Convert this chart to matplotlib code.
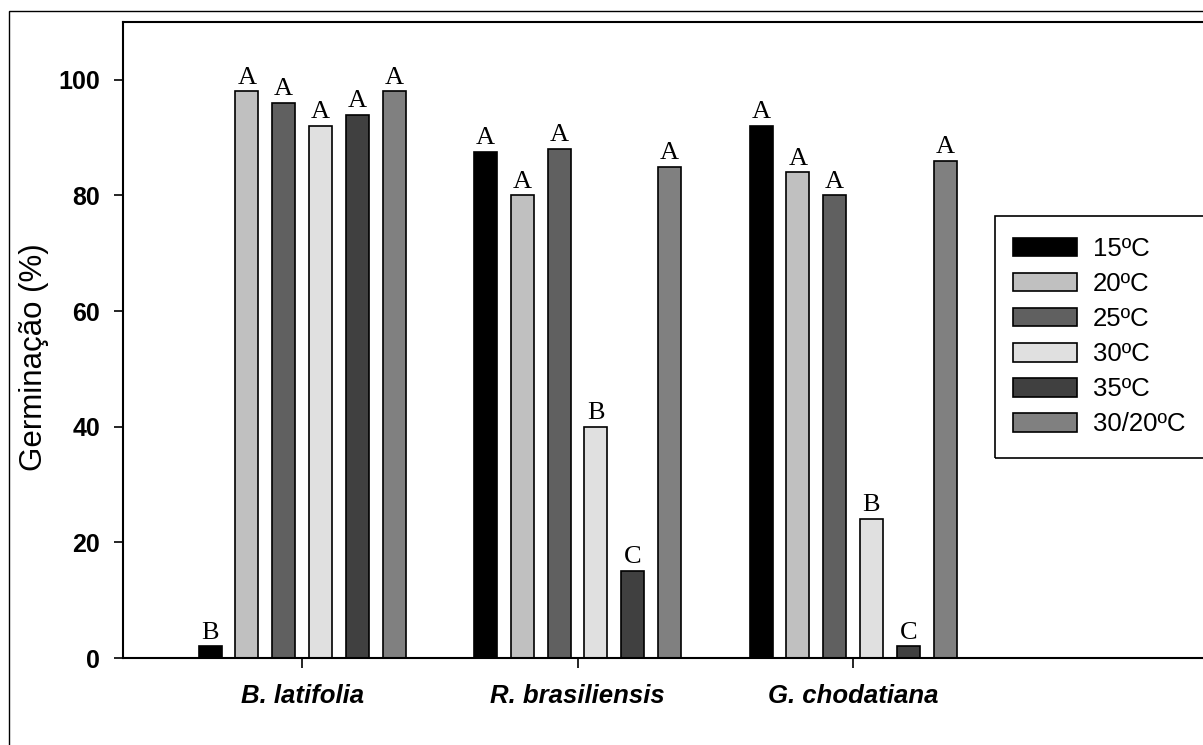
import matplotlib
matplotlib.use("Agg")
import matplotlib.pyplot as plt
from matplotlib.patches import Rectangle
import numpy as np

plt.rcParams["font.family"] = ["Liberation Sans", "DejaVu Sans"]

species = ["B. latifolia", "R. brasiliensis", "G. chodatiana"]
temps = ["15ºC", "20ºC", "25ºC", "30ºC", "35ºC", "30/20ºC"]
colors = ["#000000", "#c0c0c0", "#606060", "#e0e0e0", "#404040", "#808080"]

# germination (%) per temperature, one value per species
g15 = [2, 87.5, 92]
g20 = [98, 80, 84]
g25 = [96, 88, 80]
g30 = [92, 40, 24]
g35 = [94, 15, 2]
g3020 = [98, 85, 86]
values = [g15, g20, g25, g30, g35, g3020]

# letters above bars (same order as values)
l15 = ["B", "A", "A"]
l20 = ["A", "A", "A"]
l25 = ["A", "A", "A"]
l30 = ["A", "B", "B"]
l35 = ["A", "C", "C"]
l3020 = ["A", "A", "A"]
letters = [l15, l20, l25, l30, l35, l3020]

W, H = 1203, 745
fig = plt.figure(figsize=(W / 100, H / 100), dpi=100)

# axes placed in pixel terms; right edge runs off the canvas like the source
left, right, top, bottom = 123, 1250, 22, 658
ax = fig.add_axes([left / W, 1 - bottom / H, (right - left) / W, (bottom - top) / H])

x = np.arange(len(species))
step = 0.1336
width = 0.0835
for i, (vals, labs) in enumerate(zip(values, letters)):
    pos = x + (i - 2.5) * step
    ax.bar(pos, vals, width, color=colors[i], edgecolor="black",
           linewidth=1.2, label=temps[i], zorder=2)
    for px, v, lab in zip(pos, vals, labs):
        ax.annotate(lab, (px, v), xytext=(0, 2), textcoords="offset points",
                    ha="center", va="bottom", fontsize=19,
                    family="Liberation Serif", zorder=3)

ax.set_xlim(-0.650, (right - 302) / 275.5)
ax.set_ylim(0, 110)
ax.set_yticks([0, 20, 40, 60, 80, 100])
ax.set_xticks(x)
ax.set_xticklabels(species, fontsize=18.5, fontweight="bold", style="italic")
for t in ax.get_yticklabels():
    t.set_fontsize(18)
    t.set_fontweight("bold")
ax.tick_params(axis="y", direction="out", length=6.5, width=1.2, pad=10)
ax.tick_params(axis="x", direction="out", length=7, width=1.2, pad=12)

for s in ["left", "bottom", "top"]:
    ax.spines[s].set_linewidth(1.5)
ax.spines["right"].set_visible(False)

fig.text(34 / W, 1 - 357 / H, "Germinação (%)", rotation=90, fontsize=22.5,
         ha="center", va="center")

leg = ax.legend(loc="upper left", bbox_to_anchor=(1013 / W, 1 - 237 / H),
                bbox_transform=fig.transFigure,
                fontsize=18.5, handlelength=2.49, handleheight=0.74,
                labelspacing=0.43, borderpad=0, handletextpad=0.62,
                frameon=False, borderaxespad=0)

# legend box, drawn by hand so it runs off the right edge like the source
fig.add_artist(Rectangle((995 / W, 1 - 458 / H), 300 / W, (458 - 216) / H,
                         transform=fig.transFigure, fill=False,
                         edgecolor="black", linewidth=1.2))

# outer frame around the figure (cropped on right and bottom)
fig.add_artist(Rectangle((9 / W, -0.1), 1.2, 1 - 11 / H + 0.1,
                         transform=fig.transFigure, fill=False,
                         edgecolor="black", linewidth=1.0))

fig.savefig("out.png", dpi=100)
